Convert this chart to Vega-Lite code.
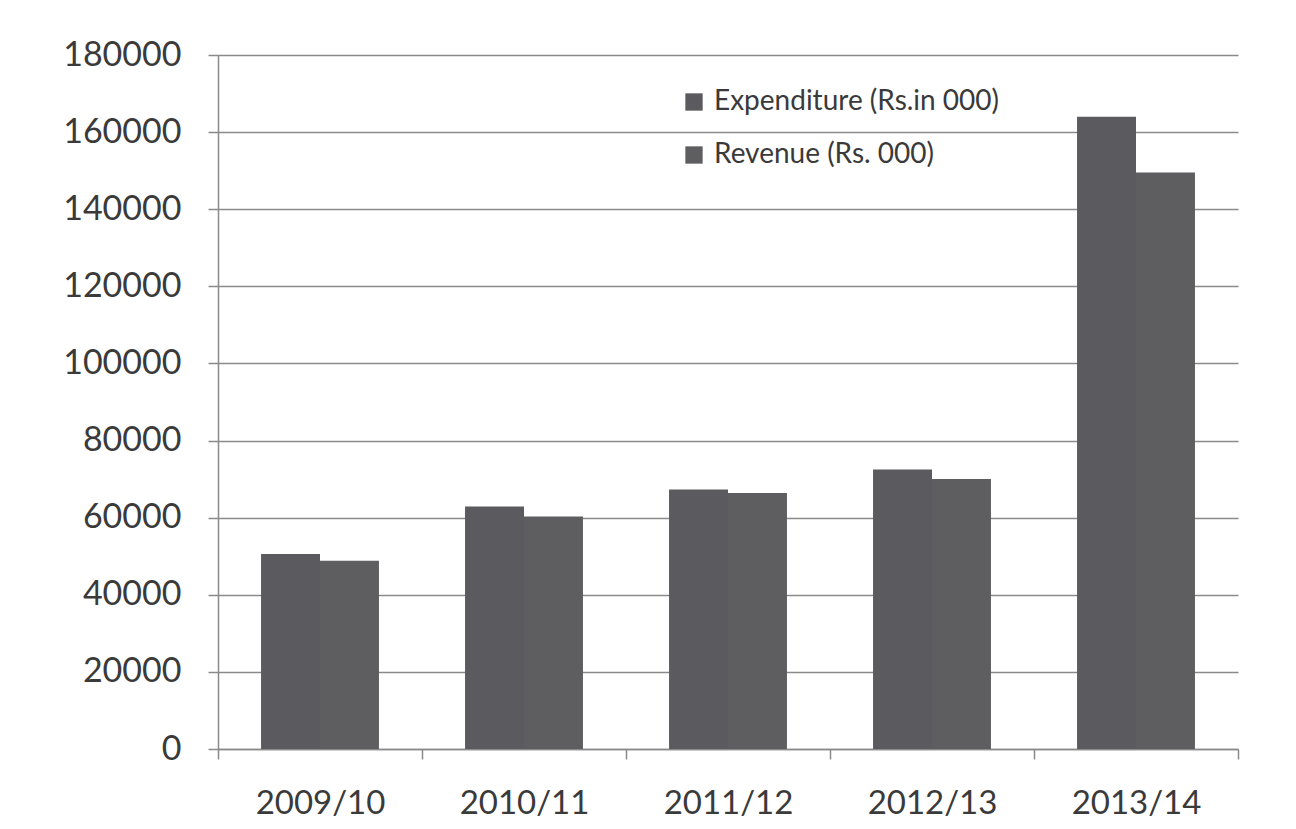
{
  "$schema": "https://vega.github.io/schema/vega-lite/v6.json",
  "width": 1020,
  "height": 694,
  "padding": {"left": 218, "top": 55, "right": 58, "bottom": 80},
  "autosize": {"type": "none"},
  "background": "white",
  "config": {"view": {"stroke": null}, "font": "Lato"},
  "data": {
    "values": [
      {"year": "2009/10", "series": "Expenditure (Rs.in 000)", "value": 50600},
      {"year": "2009/10", "series": "Revenue (Rs. 000)", "value": 48800},
      {"year": "2010/11", "series": "Expenditure (Rs.in 000)", "value": 62900},
      {"year": "2010/11", "series": "Revenue (Rs. 000)", "value": 60300},
      {"year": "2011/12", "series": "Expenditure (Rs.in 000)", "value": 67300},
      {"year": "2011/12", "series": "Revenue (Rs. 000)", "value": 66400},
      {"year": "2012/13", "series": "Expenditure (Rs.in 000)", "value": 72500},
      {"year": "2012/13", "series": "Revenue (Rs. 000)", "value": 70000},
      {"year": "2013/14", "series": "Expenditure (Rs.in 000)", "value": 164000},
      {"year": "2013/14", "series": "Revenue (Rs. 000)", "value": 149500}
    ]
  },
  "mark": {"type": "bar"},
  "encoding": {
    "x": {
      "field": "year", "type": "nominal", "title": null,
      "scale": {"paddingInner": 0, "paddingOuter": 0},
      "axis": {
        "labelAngle": 0, "labelFontSize": 33, "labelColor": "#3a3a3a", "labelFont": "Lato",
        "labelPadding": 28, "tickBand": "extent", "tickSize": 10, "tickColor": "#8a8a8a",
        "domainColor": "#8a8a8a", "domainWidth": 1.5, "tickWidth": 1.5, "grid": false
      }
    },
    "xOffset": {"field": "series", "type": "nominal", "scale": {"paddingInner": 0, "paddingOuter": 0.73}},
    "y": {
      "field": "value", "type": "quantitative", "title": null,
      "scale": {"domain": [0, 180000], "nice": false},
      "axis": {
        "values": [0, 20000, 40000, 60000, 80000, 100000, 120000, 140000, 160000, 180000],
        "format": "d", "labelFontSize": 34, "labelColor": "#3a3a3a", "labelFont": "Lato",
        "labelPadding": 27, "tickSize": 10, "tickColor": "#8a8a8a", "tickWidth": 1.5,
        "domainColor": "#8a8a8a", "domainWidth": 1.5,
        "grid": true, "gridColor": "#8a8a8a", "gridWidth": 1.5
      }
    },
    "color": {
      "field": "series", "type": "nominal",
      "scale": {"range": ["#5b5a5e", "#5e5d60"]},
      "legend": {
        "title": null, "orient": "none", "legendX": 462, "legendY": 33,
        "labelFontSize": 28, "labelColor": "#3a3a3a", "labelFont": "Lato", "labelLimit": 0,
        "symbolType": "square", "symbolSize": 300, "symbolStrokeWidth": 0, "symbolFillColor": "#666666",
        "rowPadding": 25, "labelOffset": 6
      }
    }
  }
}
